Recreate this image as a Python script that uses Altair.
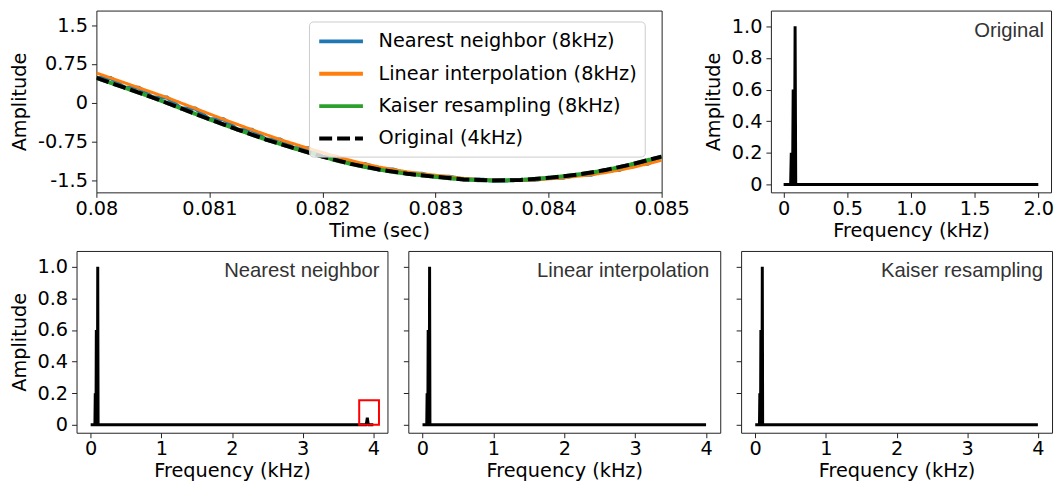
import altair as alt
import pandas as pd

# ---------------- time-domain data ----------------
t8 = [0.080000, 0.080125, 0.080250, 0.080375, 0.080500, 0.080625, 0.080750, 0.080875,
      0.081000, 0.081125, 0.081250, 0.081375, 0.081500, 0.081625, 0.081750, 0.081875,
      0.082000, 0.082125, 0.082250, 0.082375, 0.082500, 0.082625, 0.082750, 0.082875,
      0.083000, 0.083125, 0.083250, 0.083375, 0.083500, 0.083625, 0.083750, 0.083875,
      0.084000, 0.084125, 0.084250, 0.084375, 0.084500, 0.084625, 0.084750, 0.084875,
      0.085000]
t4 = [0.08, 0.08025, 0.0805, 0.08075, 0.081, 0.08125, 0.0815, 0.08175, 0.082, 0.08225,
      0.0825, 0.08275, 0.083, 0.08325, 0.0835, 0.08375, 0.084, 0.08425, 0.0845, 0.08475,
      0.085]

original = [0.48, 0.29, 0.10, -0.11, -0.32, -0.52, -0.71, -0.88, -1.04, -1.18, -1.29,
            -1.37, -1.43, -1.48, -1.50, -1.49, -1.45, -1.39, -1.30, -1.18, -1.04]

nearest = [0.48, 0.48, 0.29, 0.29, 0.10, 0.10, -0.11, -0.11, -0.32, -0.32, -0.52, -0.52,
           -0.71, -0.71, -0.88, -0.88, -1.04, -1.04, -1.18, -1.18, -1.29, -1.29, -1.37,
           -1.37, -1.43, -1.43, -1.48, -1.48, -1.50, -1.50, -1.49, -1.49, -1.45, -1.45,
           -1.39, -1.39, -1.30, -1.30, -1.18, -1.18, -1.04]

linear = [0.575, 0.48, 0.385, 0.29, 0.195, 0.10, -0.005, -0.11, -0.215, -0.32, -0.42,
          -0.52, -0.615, -0.71, -0.795, -0.88, -0.96, -1.04, -1.115, -1.18, -1.24, -1.29,
          -1.335, -1.37, -1.40, -1.43, -1.46, -1.48, -1.495, -1.50, -1.50, -1.49, -1.47,
          -1.45, -1.42, -1.39, -1.35, -1.30, -1.245, -1.18, -1.11]

kaiser = [0.48, 0.385, 0.29, 0.195, 0.10, -0.005, -0.11, -0.215, -0.32, -0.42, -0.52,
          -0.615, -0.71, -0.795, -0.88, -0.96, -1.04, -1.115, -1.18, -1.24, -1.29, -1.335,
          -1.37, -1.40, -1.43, -1.46, -1.48, -1.495, -1.50, -1.50, -1.49, -1.47, -1.45,
          -1.42, -1.39, -1.35, -1.30, -1.245, -1.18, -1.11, -1.04]

series_names = ["Nearest neighbor (8kHz)", "Linear interpolation (8kHz)",
                "Kaiser resampling (8kHz)", "Original (4kHz)"]
series_colors = ["#1f77b4", "#ff7f0e", "#2ca02c", "#000000"]
series_dashes = [[1, 0], [1, 0], [1, 0], [13, 5]]
series_widths = [4, 3, 4, 4]

time_ticks = [0.08, 0.081, 0.082, 0.083, 0.084, 0.085]
amp_ticks = [-1.5, -0.75, 0, 0.75, 1.5]

# ---------------- spectra data (kHz, normalised amplitude) ----------------
orig_freq = [0.0, 0.055, 0.06, 0.065, 0.07, 0.075, 0.08, 0.085, 0.09, 0.095, 2.0]
orig_amp = [0.0, 0.0, 0.2, 0.0, 0.0, 0.6, 0.0, 0.0, 1.0, 0.0, 0.0]

nn_freq = [0.0, 0.06, 0.065, 0.07, 0.075, 0.08, 0.085, 0.095, 0.1, 0.105,
           3.895, 3.905, 3.915, 3.925, 3.935, 4.0]
nn_amp = [0.0, 0.0, 0.2, 0.0, 0.0, 0.6, 0.0, 0.0, 1.0, 0.0,
          0.0, 0.015, 0.045, 0.012, 0.0, 0.0]

lin_freq = [0.0, 0.06, 0.065, 0.07, 0.075, 0.08, 0.085, 0.095, 0.1, 0.105, 4.0]
lin_amp = [0.0, 0.0, 0.2, 0.0, 0.0, 0.6, 0.0, 0.0, 1.0, 0.0, 0.0]

kai_freq = [0.0, 0.06, 0.065, 0.07, 0.075, 0.08, 0.085, 0.095, 0.1, 0.105, 4.0]
kai_amp = [0.0, 0.0, 0.2, 0.0, 0.0, 0.6, 0.0, 0.0, 1.0, 0.0, 0.0]

rect_x = [3.8, 4.08]
rect_y = [0.0, 0.155]

spec_yticks = [0, 0.2, 0.4, 0.6, 0.8, 1.0]
orig_xticks = [0, 0.5, 1.0, 1.5, 2.0]
up_xticks = [0, 1, 2, 3, 4]

panel_labels = ["Original", "Nearest neighbor", "Linear interpolation", "Kaiser resampling"]

# ---------------- time-domain panel ----------------
rows = []
for name, tt, vv in [(series_names[0], t8, nearest), (series_names[1], t8, linear),
                     (series_names[2], t8, kaiser), (series_names[3], t4, original)]:
    for a, b in zip(tt, vv):
        rows.append({"series": name, "t": a, "v": b})
tdf = pd.DataFrame(rows)

legend_def = alt.Legend(
    title=None, orient="none", legendX=234, legendY=11, padding=8,
    fillColor="rgba(255,255,255,0.8)", strokeColor="#cccccc", cornerRadius=4,
    symbolType="M-1,0L3.54,0", symbolSize=376, symbolStrokeWidth=4,
    labelFont="DejaVu Sans", labelFontSize=19.4, labelColor="black",
    labelOffset=38, rowPadding=10.6, labelLimit=400,
)

tx = alt.X("t:Q", scale=alt.Scale(domain=[0.08, 0.085], nice=False, zero=False),
           axis=alt.Axis(values=time_ticks, labelExpr="'' + datum.value", title="Time (sec)"))
ty = alt.Y("v:Q", scale=alt.Scale(domain=[-1.73, 1.78], nice=False, zero=False),
           axis=alt.Axis(values=amp_ticks, labelExpr="'' + datum.value", title="Amplitude"))
tcolor = alt.Color("series:N", scale=alt.Scale(domain=series_names, range=series_colors),
                   legend=legend_def)
tdash = alt.StrokeDash("series:N", scale=alt.Scale(domain=series_names, range=series_dashes),
                       legend=legend_def)

time_layers = []
for name, w in zip(series_names, series_widths):
    time_layers.append(
        alt.Chart(tdf[tdf["series"] == name]).mark_line(strokeWidth=w, clip=True)
        .encode(x=tx, y=ty, color=tcolor, strokeDash=tdash)
    )
time_panel = alt.layer(*time_layers).properties(width=569, height=183)


# ---------------- spectrum panels ----------------
def spectrum_panel(freq, amp, xdom, xticks, xexpr, w, h, label, inset, show_ylabels, rect=False):
    df = pd.DataFrame({"f": freq, "a": amp})
    xenc = alt.X("f:Q", scale=alt.Scale(domain=xdom, nice=False, zero=False),
                 axis=alt.Axis(values=xticks, labelExpr=xexpr, title="Frequency (kHz)"))
    if show_ylabels:
        yaxis = alt.Axis(values=spec_yticks,
                         labelExpr="datum.value == 0 ? '0' : format(datum.value, '.1f')",
                         title="Amplitude")
    else:
        yaxis = alt.Axis(values=spec_yticks, labels=False, title=None)
    yenc = alt.Y("a:Q", scale=alt.Scale(domain=[-0.05, 1.1], nice=False, zero=False), axis=yaxis)
    layers = [alt.Chart(df).mark_line(color="black", strokeWidth=3, clip=True)
              .encode(x=xenc, y=yenc)]
    if rect:
        rdf = pd.DataFrame({"f": [rect_x[0]], "f2": [rect_x[1]], "a": [rect_y[0]], "a2": [rect_y[1]]})
        layers.append(alt.Chart(rdf).mark_rect(fillOpacity=0, stroke="#ff0000", strokeWidth=2)
                      .encode(x=xenc, x2="f2:Q", y=yenc, y2="a2:Q"))
    ldf = pd.DataFrame({"label": [label]})
    layers.append(alt.Chart(ldf).mark_text(align="right", baseline="alphabetic",
                                           font="Liberation Sans", fontSize=20.4, color="#333333")
                  .encode(x=alt.value(w - inset), y=alt.value(26.5), text="label:N"))
    return alt.layer(*layers).properties(width=w, height=h)


orig_expr = "datum.value == 0 ? '0' : format(datum.value, '.1f')"
up_expr = "'' + datum.value"

p_orig = spectrum_panel(orig_freq, orig_amp, [-0.1, 2.1], orig_xticks, orig_expr, 282, 183,
                        panel_labels[0], 7, True)
p_nn = spectrum_panel(nn_freq, nn_amp, [-0.2, 4.2], up_xticks, up_expr, 313, 183,
                      panel_labels[1], 8, True, rect=True)
p_lin = spectrum_panel(lin_freq, lin_amp, [-0.2, 4.2], up_xticks, up_expr, 314, 183,
                       panel_labels[2], 11, False)
p_kai = spectrum_panel(kai_freq, kai_amp, [-0.2, 4.2], up_xticks, up_expr, 313, 183,
                       panel_labels[3], 9, False)

# invisible 1px spacer that lets the top row start further right than the bottom row
spacer = (
    alt.Chart(pd.DataFrame({"z": [0]})).mark_point(opacity=0)
    .properties(width=1, height=183, view=alt.ViewBackground(stroke="transparent"))
)

top_left = alt.hconcat(spacer, time_panel, spacing=19, bounds="flush")
top = alt.hconcat(top_left, p_orig, spacing=12).resolve_scale(
    x="independent", y="independent")
bottom = alt.hconcat(p_nn, p_lin, p_kai, spacing=14).resolve_scale(
    x="independent", y="independent")

chart = (
    alt.concat(top, bottom, columns=1, spacing=9)
    .resolve_scale(x="independent", y="independent")
    .properties(padding=0, background="white")
    .configure(font="DejaVu Sans")
    .configure_view(stroke="#222222", strokeWidth=1)
    .configure_axis(grid=False, domain=False, tickColor="#222222", tickSize=5, tickWidth=1,
                    labelFont="DejaVu Sans", labelFontSize=19.4, labelColor="black",
                    titleFont="DejaVu Sans", titleFontSize=19.4, titleFontWeight="normal",
                    titleColor="black", labelFlush=False, labelOverlap=False, labelPadding=3)
    .configure_axisX(labelPadding=2, titlePadding=4)
    .configure_axisY(titlePadding=8, labelPadding=4)
)

chart.save("out.html", embed_options={"renderer": "svg", "actions": False})
